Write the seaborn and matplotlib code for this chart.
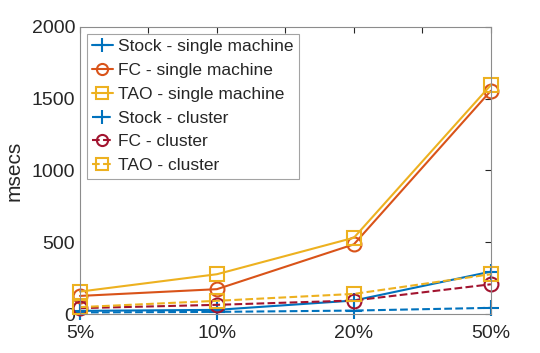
import matplotlib
matplotlib.use("Agg")
import matplotlib.pyplot as plt
import seaborn as sns
import pandas as pd

# data
categories = ["5%", "10%", "20%", "50%"]
stock_single = [23, 30, 95, 296]
fc_single = [127, 174, 486, 1555]
tao_single = [157, 278, 532, 1595]
stock_cluster = [12, 16, 25, 44]
fc_cluster = [42, 65, 95, 208]
tao_cluster = [49, 93, 141, 278]

series = [
    ("Stock - single machine", stock_single, "#0072BD", "+", "-"),
    ("FC - single machine", fc_single, "#D95319", "o", "-"),
    ("TAO - single machine", tao_single, "#EDB120", "s", "-"),
    ("Stock - cluster", stock_cluster, "#0072BD", "+", "--"),
    ("FC - cluster", fc_cluster, "#A2142F", "o", "--"),
    ("TAO - cluster", tao_cluster, "#EDB120", "s", "--"),
]

sns.set_style("white")
plt.rcParams['font.family'] = ['Liberation Sans', 'DejaVu Sans']

fig = plt.figure(figsize=(5.4, 3.53), dpi=100)
ax = fig.add_axes([0.148, 0.110, 0.761, 0.814])

pos = list(range(len(categories)))
for name, vals, color, marker, ls in series:
    df = pd.DataFrame({"x": pos, "y": vals})
    sns.lineplot(data=df, x="x", y="y", ax=ax, color=color, linestyle=ls,
                 marker=marker, markersize=12 if marker == "+" else 10,
                 markerfacecolor="none", markeredgecolor=color,
                 markeredgewidth=1.5, linewidth=1.5, label=name, clip_on=False)

ax.set_xlim(0, 3)
ax.set_ylim(0, 2000)
ax.set_xticks(pos)
ax.set_xticklabels(categories)
ax.set_xticks([0.5, 1.5, 2.5], minor=True)
ax.set_yticks([0, 500, 1000, 1500, 2000])
ax.set_xlabel("")
ax.set_ylabel("msecs", fontsize=15, color="#262626", labelpad=6)
ax.tick_params(axis="both", which="both", direction="in", top=True, right=True,
               labelsize=14, colors="#262626", length=4, width=0.8)
ax.tick_params(axis="x", pad=8)
for s in ax.spines.values():
    s.set_color("#8c8c8c")
    s.set_linewidth(0.8)
    s.set_visible(True)

leg = ax.legend(loc="upper left", fontsize=12.5, frameon=True, fancybox=False,
                handlelength=1.2, handletextpad=0.3, borderpad=0.3,
                labelspacing=0.5, borderaxespad=0.4, markerscale=0.8)
leg.get_frame().set_edgecolor("#8c8c8c")
leg.get_frame().set_linewidth(0.8)

fig.savefig("out.png", dpi=100)
